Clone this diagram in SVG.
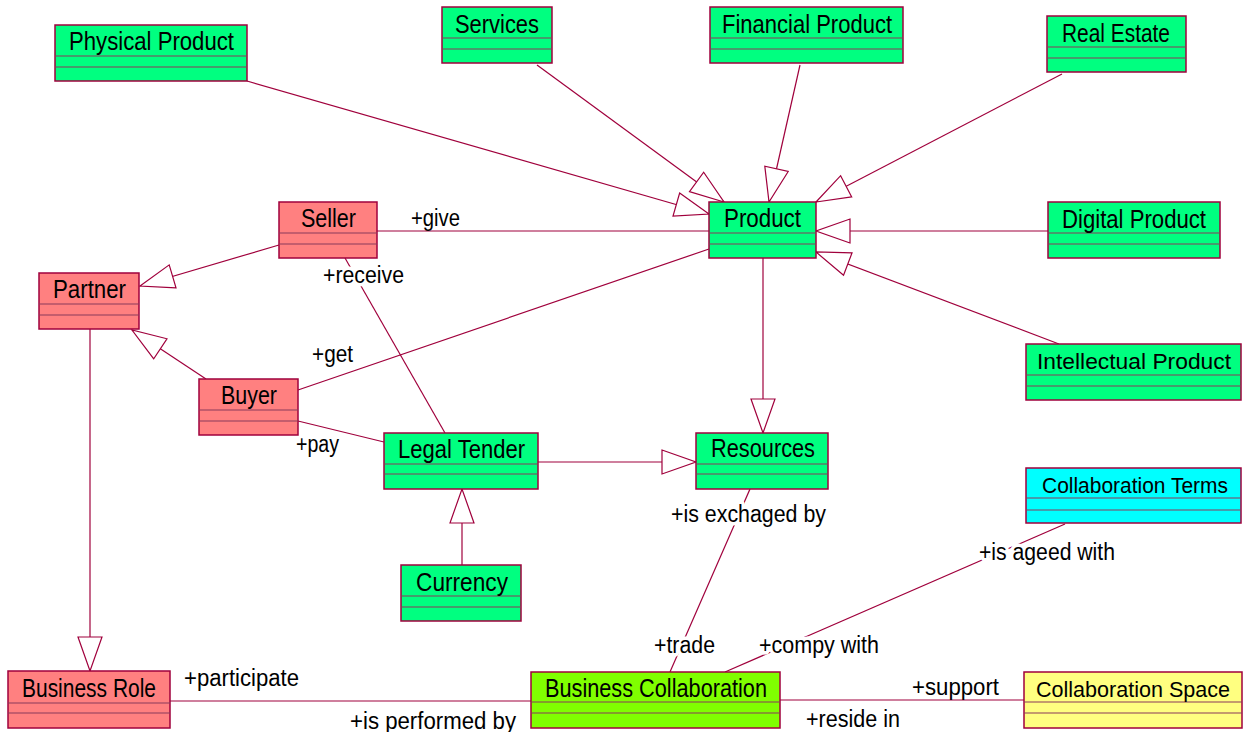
<svg xmlns="http://www.w3.org/2000/svg" width="1243" height="732" viewBox="0 0 1243 732">
<defs>
<style>
.box{stroke:#A0003C;stroke-width:1.5}
.g{fill:#00FF80}.r{fill:#FF8080}.lg{fill:#80FF00}.c{fill:#00FFFF}.y{fill:#FFFF80}
.div{stroke:#8A3A5A;stroke-width:1.2}
.nm{font-family:"Liberation Sans",Arial,sans-serif;font-size:25px;fill:#000}
.sm{font-size:22px}
.lb{font-family:"Liberation Sans",Arial,sans-serif;font-size:23px;fill:#000}
.halo{stroke:#fff;stroke-width:7;paint-order:stroke;stroke-linejoin:round}
.ln{stroke:#A0003C;stroke-width:1.2;fill:none}
.gen{marker-end:url(#tri)}
</style>
<marker id="tri" markerUnits="userSpaceOnUse" markerWidth="40" markerHeight="30" refX="35" refY="13" orient="auto" overflow="visible">
<path d="M1,1 L35,13 L1,25 Z" fill="#fff" stroke="#A0003C" stroke-width="1.2"/>
</marker>
</defs>
<rect width="1243" height="732" fill="#fff"/>

<g id="connectors">
<line class="ln gen" x1="247" y1="81" x2="709" y2="214"/>
<line class="ln gen" x1="537" y1="65" x2="724" y2="202"/>
<line class="ln gen" x1="800" y1="65" x2="769" y2="202"/>
<line class="ln gen" x1="1062" y1="74" x2="816" y2="202"/>
<line class="ln gen" x1="1048" y1="231" x2="816" y2="231"/>
<line class="ln gen" x1="1059" y1="344" x2="816" y2="252"/>
<line class="ln gen" x1="279" y1="245" x2="140" y2="286"/>
<line class="ln gen" x1="206" y1="379" x2="132" y2="330"/>
<line class="ln gen" x1="763" y1="258" x2="763" y2="433"/>
<line class="ln gen" x1="538" y1="462" x2="696" y2="462"/>
<line class="ln gen" x1="462" y1="565" x2="462" y2="489"/>
<line class="ln gen" x1="90" y1="329" x2="90" y2="671"/>
<line class="ln" x1="377" y1="231" x2="709" y2="231"/>
<line class="ln" x1="345" y1="258" x2="445" y2="433"/>
<line class="ln" x1="298" y1="390" x2="709" y2="249"/>
<line class="ln" x1="298" y1="421" x2="384" y2="442"/>
<line class="ln" x1="750" y1="489" x2="670" y2="672"/>
<line class="ln" x1="1065" y1="524" x2="725" y2="672"/>
<line class="ln" x1="170" y1="701" x2="531" y2="701"/>
<line class="ln" x1="780" y1="700" x2="1024" y2="700"/>
<text class="lb" x="411" y="226" textLength="49" lengthAdjust="spacingAndGlyphs">+give</text>
<text class="lb halo" x="323" y="283" textLength="81" lengthAdjust="spacingAndGlyphs">+receive</text>
<text class="lb" x="312" y="362" textLength="41" lengthAdjust="spacingAndGlyphs">+get</text>
<text class="lb" x="296" y="452" textLength="43" lengthAdjust="spacingAndGlyphs">+pay</text>
<text class="lb halo" x="671" y="522" textLength="155" lengthAdjust="spacingAndGlyphs">+is exchaged by</text>
<text class="lb halo" x="979" y="560" textLength="136" lengthAdjust="spacingAndGlyphs">+is ageed with</text>
<text class="lb halo" x="654" y="653" textLength="61" lengthAdjust="spacingAndGlyphs">+trade</text>
<text class="lb halo" x="759" y="653" textLength="120" lengthAdjust="spacingAndGlyphs">+compy with</text>
<text class="lb" x="184" y="686" textLength="115" lengthAdjust="spacingAndGlyphs">+participate</text>
<text class="lb" x="350" y="729" textLength="166" lengthAdjust="spacingAndGlyphs">+is performed by</text>
<text class="lb" x="912" y="695" textLength="87" lengthAdjust="spacingAndGlyphs">+support</text>
<text class="lb" x="806" y="727" textLength="94" lengthAdjust="spacingAndGlyphs">+reside in</text>
</g>

<g id="physical-product">
<rect class="box g" x="55" y="25" width="192" height="56"/>
<line class="div" x1="55" y1="56" x2="247" y2="56"/><line class="div" x1="55" y1="67" x2="247" y2="67"/>
<text class="nm" x="69" y="50" textLength="165" lengthAdjust="spacingAndGlyphs">Physical Product</text>
</g>
<g id="services">
<rect class="box g" x="442" y="7" width="110" height="56"/>
<line class="div" x1="442" y1="38" x2="552" y2="38"/><line class="div" x1="442" y1="49" x2="552" y2="49"/>
<text class="nm" x="455" y="33" textLength="84" lengthAdjust="spacingAndGlyphs">Services</text>
</g>
<g id="financial-product">
<rect class="box g" x="710" y="7" width="193" height="56"/>
<line class="div" x1="710" y1="38" x2="903" y2="38"/><line class="div" x1="710" y1="49" x2="903" y2="49"/>
<text class="nm" x="722" y="33" textLength="170" lengthAdjust="spacingAndGlyphs">Financial Product</text>
</g>
<g id="real-estate">
<rect class="box g" x="1047" y="16" width="139" height="56"/>
<line class="div" x1="1047" y1="47" x2="1186" y2="47"/><line class="div" x1="1047" y1="58" x2="1186" y2="58"/>
<text class="nm" x="1062" y="42" textLength="108" lengthAdjust="spacingAndGlyphs">Real Estate</text>
</g>
<g id="product">
<rect class="box g" x="709" y="202" width="107" height="56"/>
<line class="div" x1="709" y1="233" x2="816" y2="233"/><line class="div" x1="709" y1="244" x2="816" y2="244"/>
<text class="nm" x="724" y="227" textLength="77" lengthAdjust="spacingAndGlyphs">Product</text>
</g>
<g id="digital-product">
<rect class="box g" x="1048" y="202" width="172" height="56"/>
<line class="div" x1="1048" y1="233" x2="1220" y2="233"/><line class="div" x1="1048" y1="244" x2="1220" y2="244"/>
<text class="nm" x="1062" y="228" textLength="144" lengthAdjust="spacingAndGlyphs">Digital Product</text>
</g>
<g id="intellectual-product">
<rect class="box g" x="1026" y="344" width="215" height="56"/>
<line class="div" x1="1026" y1="375" x2="1241" y2="375"/><line class="div" x1="1026" y1="386" x2="1241" y2="386"/>
<text class="nm sm" x="1037" y="369" textLength="194" lengthAdjust="spacingAndGlyphs">Intellectual Product</text>
</g>
<g id="seller">
<rect class="box r" x="279" y="202" width="98" height="56"/>
<line class="div" x1="279" y1="233" x2="377" y2="233"/><line class="div" x1="279" y1="244" x2="377" y2="244"/>
<text class="nm" x="301" y="227" textLength="55" lengthAdjust="spacingAndGlyphs">Seller</text>
</g>
<g id="partner">
<rect class="box r" x="39" y="273" width="100" height="56"/>
<line class="div" x1="39" y1="304" x2="139" y2="304"/><line class="div" x1="39" y1="315" x2="139" y2="315"/>
<text class="nm" x="53" y="298" textLength="73" lengthAdjust="spacingAndGlyphs">Partner</text>
</g>
<g id="buyer">
<rect class="box r" x="199" y="379" width="99" height="56"/>
<line class="div" x1="199" y1="410" x2="298" y2="410"/><line class="div" x1="199" y1="421" x2="298" y2="421"/>
<text class="nm" x="221" y="404" textLength="56" lengthAdjust="spacingAndGlyphs">Buyer</text>
</g>
<g id="legal-tender">
<rect class="box g" x="384" y="433" width="154" height="56"/>
<line class="div" x1="384" y1="464" x2="538" y2="464"/><line class="div" x1="384" y1="474" x2="538" y2="474"/>
<text class="nm" x="398" y="458" textLength="127" lengthAdjust="spacingAndGlyphs">Legal Tender</text>
</g>
<g id="resources">
<rect class="box g" x="696" y="433" width="132" height="56"/>
<line class="div" x1="696" y1="464" x2="828" y2="464"/><line class="div" x1="696" y1="474" x2="828" y2="474"/>
<text class="nm" x="711" y="457" textLength="104" lengthAdjust="spacingAndGlyphs">Resources</text>
</g>
<g id="currency">
<rect class="box g" x="401" y="565" width="120" height="56"/>
<line class="div" x1="401" y1="596" x2="521" y2="596"/><line class="div" x1="401" y1="607" x2="521" y2="607"/>
<text class="nm" x="416" y="591" textLength="92" lengthAdjust="spacingAndGlyphs">Currency</text>
</g>
<g id="business-role">
<rect class="box r" x="8" y="671" width="162" height="57"/>
<line class="div" x1="8" y1="703" x2="170" y2="703"/><line class="div" x1="8" y1="713" x2="170" y2="713"/>
<text class="nm" x="22" y="697" textLength="134" lengthAdjust="spacingAndGlyphs">Business Role</text>
</g>
<g id="business-collaboration">
<rect class="box lg" x="531" y="672" width="249" height="56"/>
<line class="div" x1="531" y1="702" x2="780" y2="702"/><line class="div" x1="531" y1="713" x2="780" y2="713"/>
<text class="nm" x="545" y="697" textLength="222" lengthAdjust="spacingAndGlyphs">Business Collaboration</text>
</g>
<g id="collaboration-terms">
<rect class="box c" x="1026" y="468" width="215" height="55"/>
<line class="div" x1="1026" y1="498" x2="1241" y2="498"/><line class="div" x1="1026" y1="510" x2="1241" y2="510"/>
<text class="nm sm" x="1042" y="493" textLength="186" lengthAdjust="spacingAndGlyphs">Collaboration Terms</text>
</g>
<g id="collaboration-space">
<rect class="box y" x="1024" y="672" width="218" height="56"/>
<line class="div" x1="1024" y1="702" x2="1242" y2="702"/><line class="div" x1="1024" y1="713" x2="1242" y2="713"/>
<text class="nm sm" x="1036" y="697" textLength="194" lengthAdjust="spacingAndGlyphs">Collaboration Space</text>
</g>
</svg>
